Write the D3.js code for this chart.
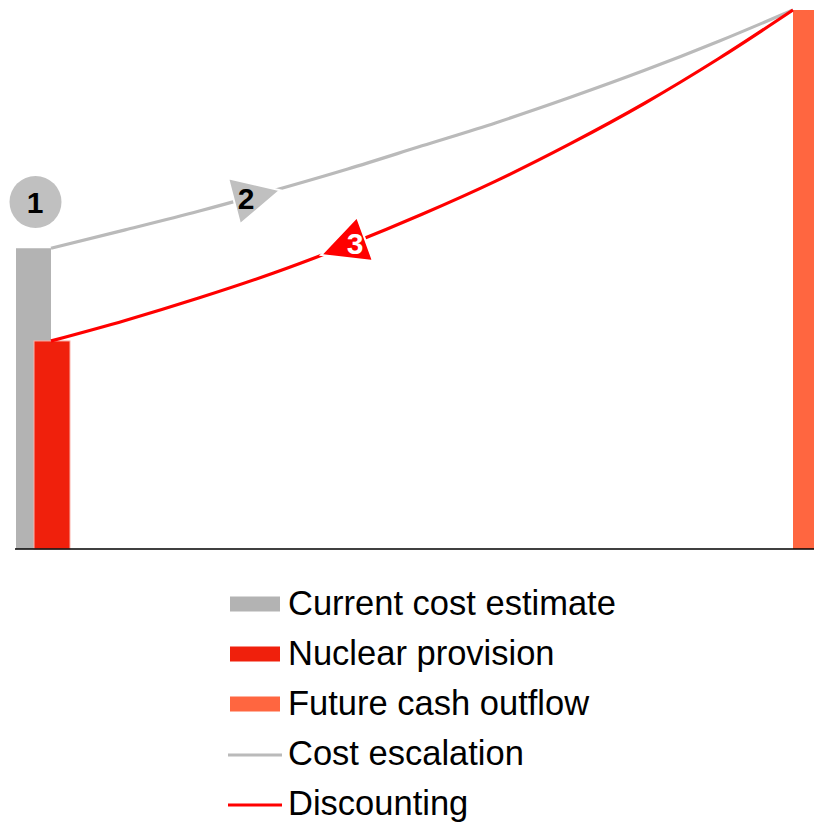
<!DOCTYPE html>
<html>
<head>
<meta charset="utf-8">
<script src="https://cdn.jsdelivr.net/npm/d3@7/dist/d3.min.js"></script>
<style>
  html, body { margin: 0; padding: 0; background: #fff; }
  svg { display: block; }
  text { font-family: "Liberation Sans", Arial, sans-serif; }
</style>
</head>
<body>
<svg id="chart" width="814" height="822"></svg>
<script>
// Years from today until the cash outflow
const years = [0, 1, 2, 3, 4, 5, 6, 7, 8, 9, 10];
// Cost estimate escalated year by year up to the future outflow
const escalation = [55.8, 59.2, 62.7, 66.5, 70.5, 74.8, 79.1, 83.8, 88.8, 94.2, 100];
// Future outflow discounted back to today's provision
const discounting = [38.6, 42.4, 46.6, 51.2, 56.4, 62.1, 68.3, 75.2, 82.7, 91.0, 100];
// Bar values
const currentCost = 55.8;
const provision = 38.6;
const futureOutflow = 100;
// Legend entries
const legendLabels = ["Current cost estimate", "Nuclear provision", "Future cash outflow", "Cost escalation", "Discounting"];
const legendKinds = ["bar", "bar", "bar", "line", "line"];
const colors = ["#b3b3b3", "#f0200c", "#ff6640", "#bababa", "#ff0000"];

const svg = d3.select("#chart");
const x = d3.scaleLinear().domain([0, 10]).range([51, 793]);
const y = d3.scaleLinear().domain([0, 100]).range([549, 10]);

// Bars
svg.append("rect")
  .attr("x", x(0) - 35).attr("width", 35)
  .attr("y", y(currentCost)).attr("height", y(0) - y(currentCost))
  .attr("fill", colors[0]);
svg.append("rect")
  .attr("x", x(0) - 17).attr("width", 36)
  .attr("y", y(provision)).attr("height", y(0) - y(provision))
  .attr("fill", colors[1]).attr("stroke", "#fbb3ab").attr("stroke-width", 1);
svg.append("rect")
  .attr("x", x(10)).attr("width", 814 - x(10))
  .attr("y", y(futureOutflow)).attr("height", y(0) - y(futureOutflow))
  .attr("fill", colors[2]);

// Baseline
svg.append("line")
  .attr("x1", 15).attr("x2", 814)
  .attr("y1", y(0)).attr("y2", y(0))
  .attr("stroke", "#000").attr("stroke-width", 1.5);

// Escalation and discounting paths
const line = d3.line().x((d, i) => x(years[i])).y(d => y(d)).curve(d3.curveMonotoneX);
svg.append("path").datum(escalation)
  .attr("d", line).attr("fill", "none")
  .attr("stroke", colors[3]).attr("stroke-width", 3.2);
svg.append("path").datum(discounting)
  .attr("d", line).attr("fill", "none")
  .attr("stroke", colors[4]).attr("stroke-width", 3.2);

// Value on a path at a fractional year
function valueAt(series, t) {
  const i = Math.min(Math.floor(t), series.length - 2);
  const f = t - i;
  return series[i] + (series[i + 1] - series[i]) * f;
}

// Step markers
const t2 = 2.67, t3 = 4.03;
const c2 = [x(t2), y(valueAt(escalation, t2))];
const c3 = [x(t3), y(valueAt(discounting, t3))];

svg.append("polygon")
  .attr("points", [[-21, -19], [31, -7], [-9, 27]].map(p => [c2[0] + p[0], c2[1] + p[1]]).join(" "))
  .attr("fill", "#c0c0c0").attr("stroke", "#fff").attr("stroke-width", 2).attr("stroke-linejoin", "miter");
svg.append("text")
  .attr("x", c2[0] - 3).attr("y", c2[1] + 12)
  .attr("text-anchor", "middle").attr("font-size", 30).attr("font-weight", "bold")
  .attr("fill", "#000").text("2");

svg.append("polygon")
  .attr("points", [[7, -27], [23, 17], [-29, 11]].map(p => [c3[0] + p[0], c3[1] + p[1]]).join(" "))
  .attr("fill", "#ff0000").attr("stroke", "#fff").attr("stroke-width", 2).attr("stroke-linejoin", "miter");
svg.append("text")
  .attr("x", c3[0] + 5).attr("y", c3[1] + 10)
  .attr("text-anchor", "middle").attr("font-size", 30).attr("font-weight", "bold")
  .attr("fill", "#fff").text("3");

// Step 1 marker above today's estimate
svg.append("circle")
  .attr("cx", 35.5).attr("cy", 202).attr("r", 26)
  .attr("fill", "#c0c0c0");
svg.append("text")
  .attr("x", 35).attr("y", 213)
  .attr("text-anchor", "middle").attr("font-size", 30).attr("font-weight", "bold")
  .attr("fill", "#000").text("1");

// Legend
const legend = svg.append("g").attr("transform", "translate(230,0)");
legendLabels.forEach((label, i) => {
  const cy = 604 + i * 50;
  if (legendKinds[i] === "bar") {
    legend.append("rect")
      .attr("x", 0).attr("y", cy - 7.5).attr("width", 50).attr("height", 15)
      .attr("fill", colors[i]);
  } else {
    legend.append("line")
      .attr("x1", -2).attr("x2", 52).attr("y1", cy + 1).attr("y2", cy + 1)
      .attr("stroke", colors[i]).attr("stroke-width", 3);
  }
  legend.append("text")
    .attr("x", 58).attr("y", cy + 11)
    .attr("font-size", 34.5).attr("fill", "#000")
    .text(label);
});
</script>
</body>
</html>
